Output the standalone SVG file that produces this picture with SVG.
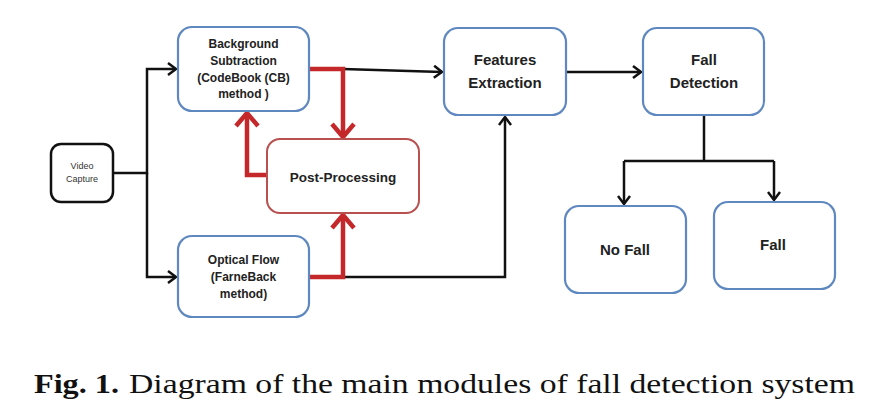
<svg xmlns="http://www.w3.org/2000/svg" width="883" height="415" viewBox="0 0 883 415">
<defs>
<style>
.blue{fill:#fff;stroke:#5f88c0;stroke-width:2.2}
.black{fill:#fff;stroke:#111;stroke-width:2.5}
.redbox{fill:#fff;stroke:#b85050;stroke-width:2}
.lbl{font-family:"Liberation Sans",Arial,sans-serif;font-weight:bold;fill:#222;text-anchor:middle}
.c{fill:none;stroke:#111;stroke-width:2.5}
.r{fill:none;stroke:#c4282a;stroke-width:4.5}
</style>
<marker id="ab" markerUnits="userSpaceOnUse" markerWidth="20" markerHeight="20" refX="0" refY="0" orient="auto" overflow="visible" viewBox="-10 -10 20 20">
<path d="M-8,-6 L0,0 L-8,6" fill="none" stroke="#111" stroke-width="2.5"/>
</marker>
<marker id="ar" markerUnits="userSpaceOnUse" markerWidth="30" markerHeight="30" refX="0" refY="0" orient="auto" overflow="visible" viewBox="-15 -15 30 30">
<path d="M-13,-11 L0,0 L-13,11" fill="none" stroke="#c4282a" stroke-width="4.5"/>
</marker>
</defs>
<rect width="883" height="415" fill="#fff"/>

<g id="connectors">
<path class="c" d="M113,173 H147 V69 H176" marker-end="url(#ab)"/>
<path class="c" d="M147,173 V277 H176" marker-end="url(#ab)"/>
<path class="c" d="M343,69 L442,72" marker-end="url(#ab)"/>
<path class="c" d="M343,277 H505 V117" marker-end="url(#ab)"/>
<path class="c" d="M566,72 H641" marker-end="url(#ab)"/>
<path class="c" d="M704,115 V161"/>
<path class="c" d="M624,161 H774"/>
<path class="c" d="M624,161 V204" marker-end="url(#ab)"/>
<path class="c" d="M774,161 V200" marker-end="url(#ab)"/>
<path class="r" d="M309,69 H343 V137" marker-end="url(#ar)"/>
<path class="r" d="M267,175 H247 V113" marker-end="url(#ar)"/>
<path class="r" d="M309,277 H343 V215" marker-end="url(#ar)"/>
</g>

<g id="video-capture">
<rect class="black" x="51" y="144" width="62" height="58" rx="10"/>
<text x="82" y="169.2" font-family="Liberation Sans,Arial,sans-serif" font-size="9" fill="#333" text-anchor="middle">Video</text>
<text x="82" y="181.9" font-family="Liberation Sans,Arial,sans-serif" font-size="9" fill="#333" text-anchor="middle">Capture</text>
</g>

<g id="background-subtraction">
<rect class="blue" x="178" y="27" width="131" height="84" rx="14"/>
<text class="lbl" font-size="12" x="243.5" y="48.2">Background</text>
<text class="lbl" font-size="12" x="243.5" y="65">Subtraction</text>
<text class="lbl" font-size="12" x="243.5" y="81.5">(CodeBook (CB)</text>
<text class="lbl" font-size="12" x="243.5" y="98.2">method )</text>
</g>

<g id="optical-flow">
<rect class="blue" x="178" y="236" width="131" height="81" rx="14"/>
<text class="lbl" font-size="12" x="243.5" y="264.2">Optical Flow</text>
<text class="lbl" font-size="12" x="243.5" y="281">(FarneBack</text>
<text class="lbl" font-size="12" x="243.5" y="297.5">method)</text>
</g>

<g id="post-processing">
<rect class="redbox" x="267" y="139" width="152" height="74" rx="13"/>
<text class="lbl" font-size="13.5" x="343" y="181.5">Post-Processing</text>
</g>

<g id="features-extraction">
<rect class="blue" x="444" y="28" width="122" height="87" rx="14"/>
<text class="lbl" font-size="15" x="505" y="65.3">Features</text>
<text class="lbl" font-size="15" x="505" y="87.6">Extraction</text>
</g>

<g id="fall-detection">
<rect class="blue" x="643" y="28" width="121" height="87" rx="14"/>
<text class="lbl" font-size="15" x="704" y="65.3">Fall</text>
<text class="lbl" font-size="15" x="704" y="87.6">Detection</text>
</g>

<g id="no-fall">
<rect class="blue" x="565" y="206" width="121" height="87" rx="14"/>
<text class="lbl" font-size="15" x="625" y="254.6">No Fall</text>
</g>

<g id="fall">
<rect class="blue" x="714" y="202" width="121" height="87" rx="14"/>
<text class="lbl" font-size="15" x="773" y="250.3">Fall</text>
</g>

<g id="caption">
<text x="34" y="393" font-family="Liberation Serif, serif" font-size="27" fill="#111" font-weight="bold" textLength="85" lengthAdjust="spacingAndGlyphs">Fig. 1.</text>
<text x="129" y="393" font-family="Liberation Serif, serif" font-size="27" fill="#111" textLength="726" lengthAdjust="spacingAndGlyphs">Diagram of the main modules of fall detection system</text>
</g>
</svg>
